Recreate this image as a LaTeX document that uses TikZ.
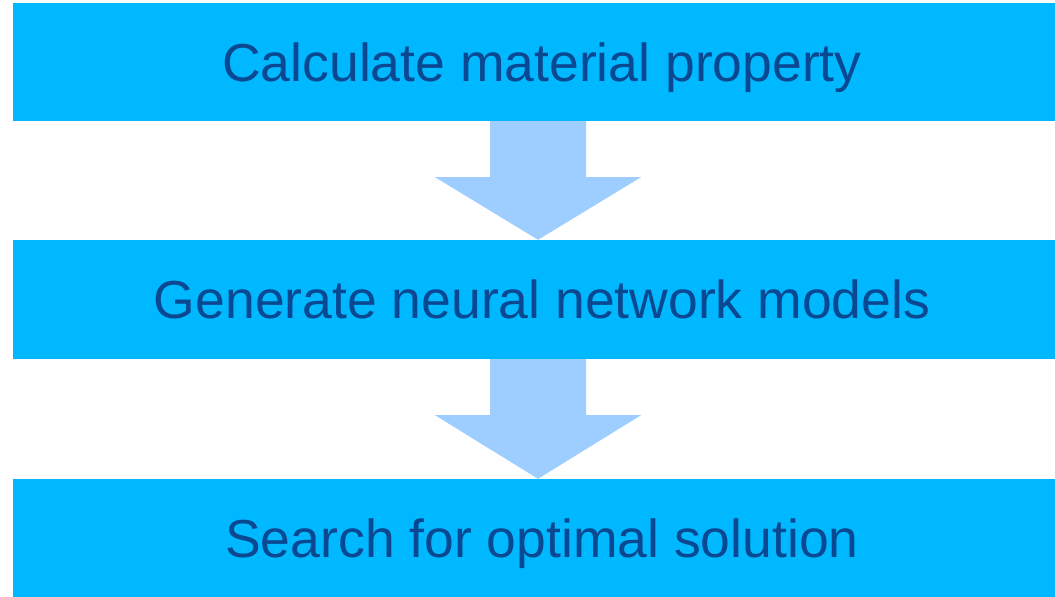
\documentclass[tikz,border=0pt]{standalone}
\usepackage{fontspec}
\setmainfont{Liberation Sans}
\usetikzlibrary{calc}
\definecolor{boxblue}{RGB}{0,184,255}
\definecolor{textblue}{RGB}{10,72,145}
\definecolor{arrowblue}{RGB}{157,206,255}
\begin{document}
\begin{tikzpicture}[x=1pt, y=-1pt,
    stage/.style={fill=boxblue, text=textblue, minimum width=1058pt, minimum height=118pt, inner sep=0pt,
        text height=38pt, text depth=0pt, font=\fontsize{53.5}{64}\selectfont},
    flow/.style={fill=arrowblue}]
\useasboundingbox (0,0) rectangle (1055,597);
\clip (0,0) rectangle (1055,597);
\node[stage] (calc) at (542,62) {Calculate material property};
\node[stage, minimum height=119pt] (gen) at (542,299.5) {Generate neural network models};
\node[stage] (search) at (542,538) {Search for optimal solution};
\coordinate (axis) at (538,0);
% block arrows between the stages
\foreach \a/\b in {calc/gen, gen/search}
{
    \fill[flow] ($(axis |- \a.south)+(-48,0)$) -- ++(0,56) -- ++(-55,0) -- (axis |- \b.north)
        -- ($(axis |- \a.south)+(103,56)$) -- ++(-55,0) -- ++(0,-56) -- cycle;
}
\end{tikzpicture}
\end{document}
